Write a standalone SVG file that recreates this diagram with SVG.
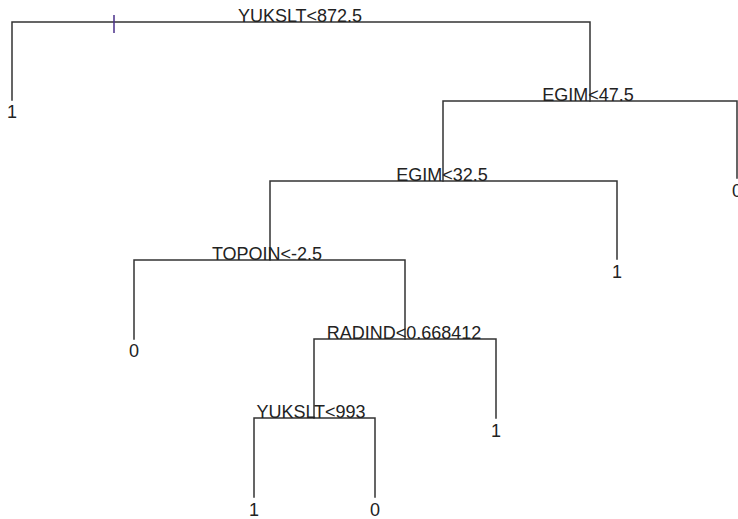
<svg xmlns="http://www.w3.org/2000/svg" width="738" height="519" viewBox="0 0 738 519">
<style>
.e{fill:none;stroke:#333;stroke-width:1.5;stroke-linecap:square}
text{font-family:"Liberation Sans",Arial,sans-serif;font-size:18px;fill:#222;text-anchor:middle}
</style>
<rect width="738" height="519" fill="#fff"/>
<g id="connectors">
<path class="e" d="M12,100V22H590V101"/>
<path class="e" d="M443,181V101H737V178"/>
<path class="e" d="M270,260V181H617V259"/>
<path class="e" d="M134,339V260H405V339"/>
<path class="e" d="M314,418V339H496V418"/>
<path class="e" d="M254,497V418H375V497"/>
<line x1="114" y1="15" x2="114" y2="33" stroke="#4a2f8a" stroke-width="1.5"/>
</g>
<g id="n1"><text x="300" y="22">YUKSLT&lt;872.5</text></g>
<g id="n2"><text x="12" y="118">1</text></g>
<g id="n3"><text x="588" y="101">EGIM&lt;47.5</text></g>
<g id="n6"><text x="442" y="181">EGIM&lt;32.5</text></g>
<g id="n7"><text x="737" y="197">0</text></g>
<g id="n12"><text x="267" y="260">TOPOIN&lt;-2.5</text></g>
<g id="n13"><text x="617" y="278">1</text></g>
<g id="n24"><text x="134" y="357">0</text></g>
<g id="n25"><text x="404" y="339">RADIND&lt;0.668412</text></g>
<g id="n50"><text x="311" y="418">YUKSLT&lt;993</text></g>
<g id="n51"><text x="496" y="437">1</text></g>
<g id="n100"><text x="254" y="516">1</text></g>
<g id="n101"><text x="375" y="516">0</text></g>
</svg>
